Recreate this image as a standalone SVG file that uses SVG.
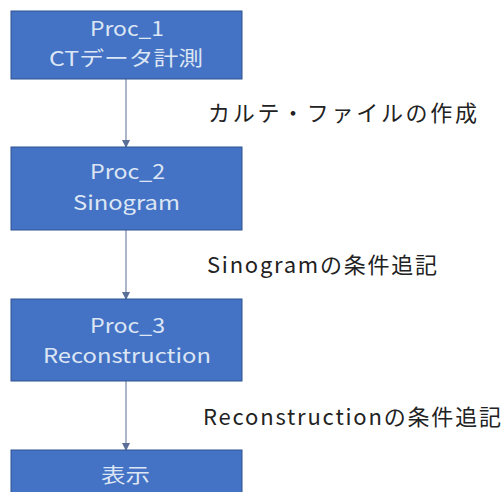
<svg xmlns="http://www.w3.org/2000/svg" width="502" height="492" viewBox="0 0 502 492">
<defs>
<style>
.box{fill:#4472C4;stroke:#2F528F;stroke-width:1}
.bt{font-family:"Noto Sans CJK JP","Noto Sans",sans-serif;font-size:20px;fill:#dce6f4}
.lb{font-family:"Noto Sans CJK JP","Noto Sans",sans-serif;font-size:22px;fill:#222}
.cn{stroke:#7585a8;stroke-width:1.2;fill:none}
</style>
<marker id="ah" markerWidth="8" markerHeight="8" refX="7" refY="4" orient="auto" markerUnits="userSpaceOnUse">
<path d="M0,0 L8,4 L0,8 z" fill="#5a6e98"/>
</marker>
</defs>
<rect width="502" height="492" fill="#fff"/>
<g id="connectors">
<line class="cn" x1="126" y1="79" x2="126" y2="147" marker-end="url(#ah)"/>
<line class="cn" x1="126" y1="230" x2="126" y2="299" marker-end="url(#ah)"/>
<line class="cn" x1="126" y1="381" x2="126" y2="450" marker-end="url(#ah)"/>
</g>
<g id="proc1">
<rect class="box" x="11" y="11" width="231" height="68"/>
<text class="bt" x="90" y="36" textLength="74" lengthAdjust="spacingAndGlyphs">Proc_1</text>
<text class="bt" x="49" y="66" textLength="154" lengthAdjust="spacingAndGlyphs">CTデータ計測</text>
</g>
<g id="proc2">
<rect class="box" x="11" y="147" width="231" height="83"/>
<text class="bt" x="90" y="179" textLength="75" lengthAdjust="spacingAndGlyphs">Proc_2</text>
<text class="bt" x="73" y="210" textLength="107" lengthAdjust="spacingAndGlyphs">Sinogram</text>
</g>
<g id="proc3">
<rect class="box" x="11" y="299" width="231" height="82"/>
<text class="bt" x="90" y="333" textLength="75" lengthAdjust="spacingAndGlyphs">Proc_3</text>
<text class="bt" x="43" y="363" textLength="168" lengthAdjust="spacingAndGlyphs">Reconstruction</text>
</g>
<g id="disp">
<rect class="box" x="11" y="450" width="231" height="50"/>
<text class="bt" x="101" y="483" textLength="49" lengthAdjust="spacingAndGlyphs">表示</text>
</g>
<g id="labels">
<text class="lb" x="208" y="121" textLength="269" lengthAdjust="spacing">カルテ・ファイルの作成</text>
<text class="lb" x="207" y="273" textLength="230" lengthAdjust="spacing">Sinogramの条件追記</text>
<text class="lb" x="203" y="425" textLength="298" lengthAdjust="spacing">Reconstructionの条件追記</text>
</g>
</svg>
